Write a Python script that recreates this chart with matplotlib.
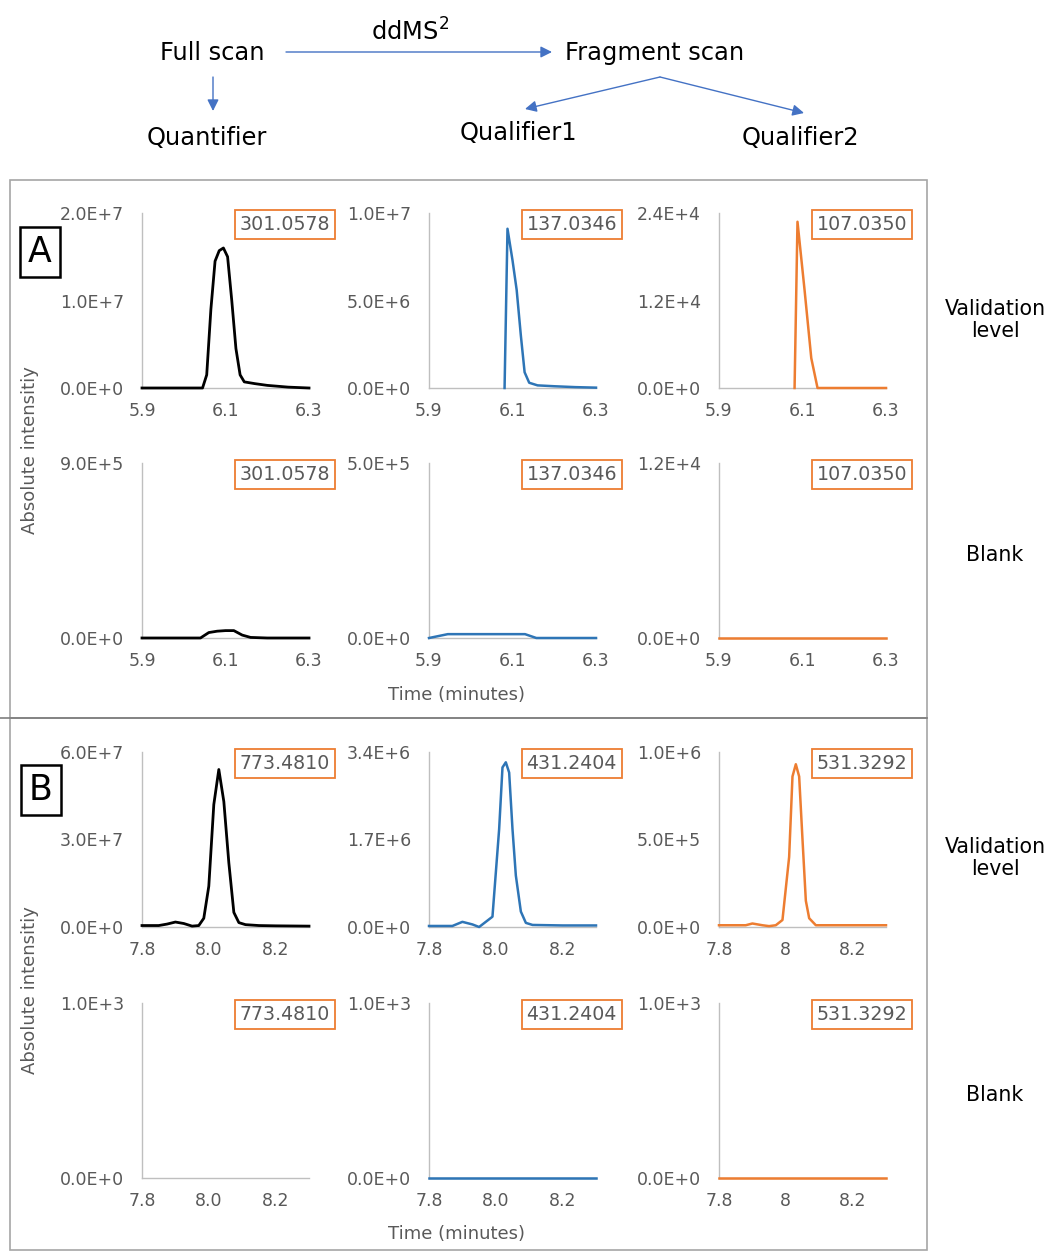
import numpy as np
import matplotlib
matplotlib.use("Agg")
import matplotlib.pyplot as plt
from matplotlib.patches import Rectangle, FancyArrowPatch

# ---- data ----
# A, validation level
a_val_q0_t = [5.9, 6.0, 6.045, 6.055, 6.065, 6.075, 6.085, 6.095, 6.105, 6.115, 6.125, 6.135, 6.145, 6.17, 6.2, 6.25, 6.3]
a_val_q0_v = np.array([0, 0, 0.0, 0.15, 0.9, 1.45, 1.57, 1.6, 1.5, 1.0, 0.45, 0.15, 0.07, 0.05, 0.03, 0.01, 0]) * 1e7
a_val_q1_t = [6.081, 6.088, 6.10, 6.11, 6.12, 6.129, 6.14, 6.16, 6.2, 6.25, 6.3]
a_val_q1_v = np.array([0, 9.1, 7.3, 5.6, 3.0, 0.9, 0.3, 0.15, 0.1, 0.05, 0.02]) * 1e6
a_val_q2_t = [6.081, 6.088, 6.105, 6.121, 6.136, 6.2, 6.3]
a_val_q2_v = np.array([0, 2.28, 1.34, 0.41, 0, 0, 0]) * 1e4

# A, blank
a_blk_q0_t = [5.9, 6.04, 6.06, 6.08, 6.1, 6.12, 6.14, 6.16, 6.2, 6.3]
a_blk_q0_v = np.array([0, 0, 2.8, 3.5, 3.8, 3.8, 1.5, 0.3, 0, 0]) * 1e4
a_blk_q1_t = [5.9, 5.945, 6.0, 6.05, 6.1, 6.13, 6.157, 6.2, 6.3]
a_blk_q1_v = np.array([0, 1.1, 1.1, 1.1, 1.1, 1.1, 0, 0, 0]) * 1e4
a_blk_q2_t = [5.9, 6.3]
a_blk_q2_v = [0, 0]

# B, validation level
b_val_q0_t = [7.8, 7.85, 7.875, 7.9, 7.925, 7.95, 7.97, 7.985, 8.0, 8.015, 8.03, 8.045, 8.06, 8.075, 8.09, 8.11, 8.15, 8.2, 8.3]
b_val_q0_v = np.array([0.05, 0.05, 0.1, 0.17, 0.12, 0.03, 0.05, 0.3, 1.4, 4.2, 5.4, 4.3, 2.2, 0.5, 0.15, 0.08, 0.05, 0.04, 0.03]) * 1e7
b_val_q1_t = [7.8, 7.87, 7.9, 7.93, 7.95, 7.97, 7.99, 8.01, 8.02, 8.03, 8.04, 8.05, 8.06, 8.075, 8.09, 8.11, 8.2, 8.3]
b_val_q1_v = np.array([0.02, 0.02, 0.1, 0.05, 0.0, 0.1, 0.2, 1.9, 3.1, 3.2, 3.0, 1.9, 1.0, 0.3, 0.08, 0.04, 0.03, 0.03]) * 1e6
b_val_q2_t = [7.8, 7.88, 7.9, 7.93, 7.95, 7.97, 7.99, 8.01, 8.02, 8.03, 8.04, 8.05, 8.06, 8.07, 8.09, 8.2, 8.3]
b_val_q2_v = np.array([0.1, 0.1, 0.2, 0.1, 0.05, 0.1, 0.4, 4.0, 8.6, 9.3, 8.6, 5.0, 1.5, 0.5, 0.1, 0.1, 0.1]) * 1e5

# B, blank (quantifier trace has nothing drawn)
b_blk_q0_t = []
b_blk_q0_v = []
b_blk_q1_t = [7.8, 8.3]
b_blk_q1_v = [0, 0]
b_blk_q2_t = [7.8, 8.3]
b_blk_q2_v = [0, 0]

# axis maxima and tick labels
ymax_rows = [[2.0e7, 1.0e7, 2.4e4], [9.0e5, 5.0e5, 1.2e4], [6.0e7, 3.4e6, 1.0e6], [1.0e3, 1.0e3, 1.0e3]]
ylabels_rows = [
    [["0.0E+0", "1.0E+7", "2.0E+7"], ["0.0E+0", "5.0E+6", "1.0E+7"], ["0.0E+0", "1.2E+4", "2.4E+4"]],
    [["0.0E+0", "", "9.0E+5"], ["0.0E+0", "", "5.0E+5"], ["0.0E+0", "", "1.2E+4"]],
    [["0.0E+0", "3.0E+7", "6.0E+7"], ["0.0E+0", "1.7E+6", "3.4E+6"], ["0.0E+0", "5.0E+5", "1.0E+6"]],
    [["0.0E+0", "", "1.0E+3"], ["0.0E+0", "", "1.0E+3"], ["0.0E+0", "", "1.0E+3"]],
]
xticks_a = [5.9, 6.1, 6.3]
xlabels_a = ["5.9", "6.1", "6.3"]
xticks_b = [7.8, 8.0, 8.2]
xlabels_b = ["7.8", "8.0", "8.2"]
xlabels_b3 = ["7.8", "8", "8.2"]
masses_a = ["301.0578", "137.0346", "107.0350"]
masses_b = ["773.4810", "431.2404", "531.3292"]

series = [
    [(a_val_q0_t, a_val_q0_v), (a_val_q1_t, a_val_q1_v), (a_val_q2_t, a_val_q2_v)],
    [(a_blk_q0_t, a_blk_q0_v), (a_blk_q1_t, a_blk_q1_v), (a_blk_q2_t, a_blk_q2_v)],
    [(b_val_q0_t, b_val_q0_v), (b_val_q1_t, b_val_q1_v), (b_val_q2_t, b_val_q2_v)],
    [(b_blk_q0_t, b_blk_q0_v), (b_blk_q1_t, b_blk_q1_v), (b_blk_q2_t, b_blk_q2_v)],
]

colors = ["#000000", "#2E75B6", "#ED7D31"]
gray = "#595959"

W, H = 1050, 1251
fig = plt.figure(figsize=(W / 100, H / 100), dpi=100)


def fx(x):
    return x / W


def fy(y):
    return 1 - y / H


col_left = [142, 429, 719]
col_w = 167
row_top = [213, 463, 752, 1003]
row_h = 175

for r in range(4):
    for c in range(3):
        ax = fig.add_axes([fx(col_left[c]), fy(row_top[r] + row_h), col_w / W, row_h / H])
        t, v = series[r][c]
        if len(t):
            ax.plot(t, v, color=colors[c], lw=2.0 if c == 0 else 1.8, clip_on=False, zorder=3,
                    solid_joinstyle="round")
        ymax = ymax_rows[r][c]
        ax.set_ylim(0, ymax)
        ax.set_yticks([0, ymax / 2, ymax])
        ax.set_yticklabels(ylabels_rows[r][c])
        if r < 2:
            ax.set_xlim(5.9, 6.3)
            ax.set_xticks(xticks_a)
            ax.set_xticklabels(xlabels_a)
        else:
            ax.set_xlim(7.8, 8.3)
            ax.set_xticks(xticks_b)
            ax.set_xticklabels(xlabels_b3 if c == 2 else xlabels_b)
        for s in ["top", "right"]:
            ax.spines[s].set_visible(False)
        for s in ["left", "bottom"]:
            ax.spines[s].set_color("#BFBFBF")
            ax.spines[s].set_linewidth(1.0)
        ax.tick_params(length=0, labelsize=12.5, labelcolor=gray)
        ax.tick_params(axis="x", pad=10)
        ax.tick_params(axis="y", pad=13)
        ax.patch.set_alpha(0)
        mass = masses_a[c] if r < 2 else masses_b[c]
        ax.text(0.855, 0.935, mass, transform=ax.transAxes, ha="center", va="center",
                fontsize=13.7, color=gray, clip_on=False, zorder=5,
                bbox=dict(boxstyle="square,pad=0.25", fc="white", ec="#ED7D31", lw=1.3))

# panel frames
fig.add_artist(Rectangle((fx(10), fy(718)), fx(927) - fx(10), fy(180) - fy(718),
                         transform=fig.transFigure, fill=False, ec="#A6A6A6", lw=1.2))
fig.add_artist(Rectangle((fx(10), fy(1250)), fx(927) - fx(10), fy(718) - fy(1250),
                         transform=fig.transFigure, fill=False, ec="#A6A6A6", lw=1.2))
fig.add_artist(plt.Line2D([fx(0), fx(927)], [fy(718), fy(718)], transform=fig.transFigure,
                          color="#7F7F7F", lw=1.2))

# panel letters
for letter, (cx, cy) in [("A", (40, 252)), ("B", (41, 790))]:
    fig.text(fx(cx), fy(cy), letter, ha="center", va="center", fontsize=25, color="black",
             bbox=dict(boxstyle="square,pad=0.22", fc="white", ec="black", lw=1.8))

# axis titles
for yc in [450, 990]:
    fig.text(fx(30), fy(yc), "Absolute intensitiy", rotation=90, ha="center", va="center",
             fontsize=13, color=gray)
for yc in [695, 1234]:
    fig.text(fx(456), fy(yc), "Time (minutes)", ha="center", va="center", fontsize=13, color=gray)

# row labels on the right
for txt, yc in [("Validation\nlevel", 320), ("Blank", 555), ("Validation\nlevel", 858), ("Blank", 1095)]:
    fig.text(fx(995), fy(yc), txt, ha="center", va="center", fontsize=14.8, color="black",
             linespacing=1.15)

# top scheme
top_texts = [("Full scan", 212, 53), (r"ddMS$^{2}$", 410, 32), ("Fragment scan", 655, 53),
             ("Quantifier", 207, 138), ("Qualifier1", 518, 133), ("Qualifier2", 800, 138)]
for txt, cx, cy in top_texts:
    fig.text(fx(cx), fy(cy), txt, ha="center", va="center", fontsize=17.4, color="black")

arrows = [((286, 52), (552, 52)), ((213, 77), (213, 111)), ((660, 77), (525, 109)), ((660, 77), (804, 113))]
for (x0, y0), (x1, y1) in arrows:
    fig.add_artist(FancyArrowPatch((fx(x0), fy(y0)), (fx(x1), fy(y1)), transform=fig.transFigure,
                                   arrowstyle="-|>", mutation_scale=17, color="#4472C4", lw=1.0,
                                   shrinkA=0, shrinkB=0))

fig.savefig("out.png", dpi=100)
